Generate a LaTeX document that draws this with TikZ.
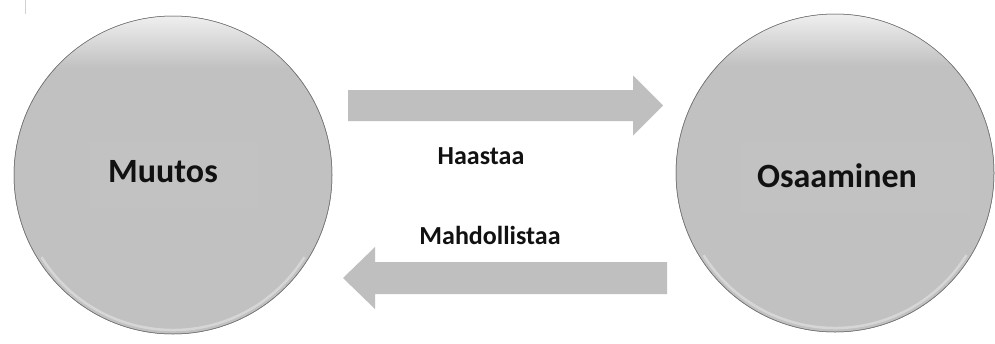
\documentclass[tikz,border=0pt]{standalone}
\usepackage{fontspec}
\setmainfont{Carlito}

\definecolor{discgray}{RGB}{193,193,193}
\definecolor{boxgray}{RGB}{194,194,194}
\definecolor{arrowgray}{RGB}{191,191,191}
\definecolor{inkblack}{RGB}{17,17,17}
\definecolor{lightcap}{RGB}{240,240,240}

% flat disc with a narrow darker rim
\pgfdeclareradialshading{discshade}{\pgfpoint{0bp}{0bp}}{%
  color(0bp)=(discgray); color(45.5bp)=(discgray);
  color(48.5bp)=(discgray!90!black); color(49.6bp)=(discgray!78!black);
  color(50bp)=(discgray!65!black)}

\begin{document}
\begin{tikzpicture}[x=1pt, y=-1pt,
  disc/.style={circle, minimum size=318pt, inner sep=0pt,
    shading=discshade, draw=discgray!60!black, line width=0.5pt},
  textbox/.style={fill=boxgray, inner sep=0pt},
  disclabel/.style={inner sep=0pt, text=inkblack,
    font=\bfseries\fontsize{34}{40}\selectfont},
  arrowlabel/.style={inner sep=0pt, text=inkblack,
    font=\bfseries\fontsize{26}{30}\selectfont},
  blockarrow/.style={fill=arrowgray}]

\useasboundingbox (0,0) rectangle (995,343);
\fill[white] (0,0) rectangle (995,343);

% small mark in the upper left corner
\draw[gray!35, line width=1pt] (25,0) -- (25,14);

% the two discs
\node[disc] (muutos) at (173,175) {};
\node[disc] (osaaminen) at (835,173) {};

\foreach \d in {muutos, osaaminen}{
  \begin{scope}
    \clip (\d.center) circle[radius=158.7pt];
    % light cap on the upper part
    \shade[top color=lightcap, bottom color=discgray]
      ([xshift=-160pt,yshift=1pt]\d.north) rectangle ([xshift=160pt,yshift=-52pt]\d.north);
    % faint reflection along the lower edge
    \draw[white, opacity=0.35, line width=2.5pt]
      ([shift={(212:155pt)}]\d.center) arc[start angle=212, end angle=328, radius=155pt];
  \end{scope}
  \draw[discgray!60!black, line width=0.5pt] (\d.center) circle[radius=159pt];
}

% faint boxes behind the disc texts
\node[textbox, minimum width=167pt, minimum height=65pt] (mbox) at (173,175) {};
\node[textbox, minimum width=228pt, minimum height=70pt] (obox) at (855,178) {};

\node[disclabel] (mtext) at (163,172) {Muutos};
\node[disclabel] (otext) at (837,176) {Osaaminen};

% block arrows between the discs
\coordinate (a1s) at (348,105.5);
\coordinate (a1t) at (663,105.5);
\fill[blockarrow] ([yshift=15.5pt]a1s) -- ([xshift=-30pt,yshift=15.5pt]a1t)
  -- ([xshift=-30pt,yshift=30pt]a1t) -- (a1t)
  -- ([xshift=-30pt,yshift=-30pt]a1t) -- ([xshift=-30pt,yshift=-15.5pt]a1t)
  -- ([yshift=-15.5pt]a1s) -- cycle;

\coordinate (a2s) at (667,278);
\coordinate (a2t) at (343,278);
\fill[blockarrow] ([yshift=16pt]a2s) -- ([xshift=32pt,yshift=16pt]a2t)
  -- ([xshift=32pt,yshift=31pt]a2t) -- (a2t)
  -- ([xshift=32pt,yshift=-31pt]a2t) -- ([xshift=32pt,yshift=-16pt]a2t)
  -- ([yshift=-16pt]a2s) -- cycle;

\node[arrowlabel] (haastaa) at (481,156) {Haastaa};
\node[arrowlabel] (mahdollistaa) at (490,235) {Mahdollistaa};
\end{tikzpicture}
\end{document}
